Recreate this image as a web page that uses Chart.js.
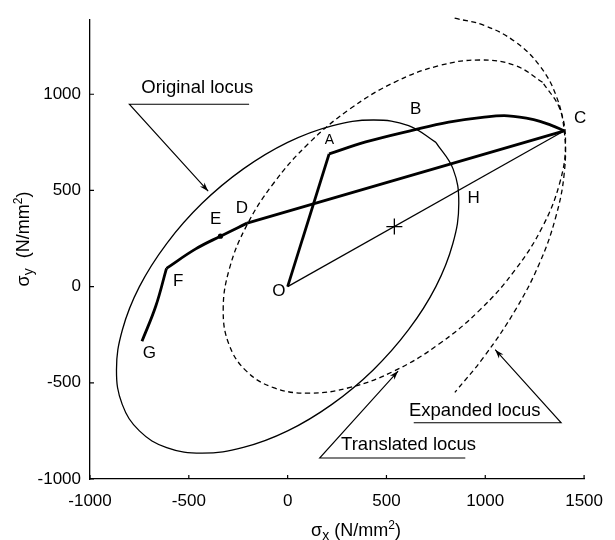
<!DOCTYPE html>
<html>
<head>
<meta charset="utf-8">
<script src="https://cdn.jsdelivr.net/npm/chart.js@4/dist/chart.umd.min.js"></script>
<style>
  html, body { margin: 0; padding: 0; background: #ffffff; }
  #wrap { width: 615px; height: 540px; }
</style>
</head>
<body>
<div id="wrap"><canvas id="c" width="615" height="540"></canvas></div>
<script>
// ---------- data ----------
const xTicks = [-1000, -500, 0, 500, 1000, 1500];
const yTicks = [-1000, -500, 0, 500, 1000];

const originalLocus = [[750,750],[612,837],[433,866],[224,836],[0,750],[-224,612],[-433,433],[-612,224],[-750,0],[-836,-224],[-866,-433],[-837,-612],[-750,-750],[-612,-837],[-433,-866],[-224,-836],[0,-750],[224,-612],[433,-433],[612,-224],[750,0],[836,224],[866,433],[837,612],[750,750]];
const translatedLocus = [[1290,1062],[1152,1149],[973,1178],[764,1148],[540,1062],[316,924],[107,745],[-72,536],[-210,312],[-296,88],[-326,-121],[-297,-300],[-210,-438],[-72,-525],[107,-554],[316,-524],[540,-438],[764,-300],[973,-121],[1152,88],[1290,312],[1376,536],[1406,745],[1377,924],[1290,1062]];
const expandedLocus = [[845,1395],[994,1358],[1151,1273],[1273,1151],[1358,994],[1400,806],[1400,594],[1357,363],[1275,123],[1152,-122],[994,-364],[846,-550]];

const pathOA = [[0,0],[210,690]];
const pathABC = [[210,690],[395,752],[640,815],[815,855],[985,880],[1115,888],[1245,868],[1335,838],[1400,810]];
const pathCD = [[1400,810],[-205,330]];
const pathDEF = [[-205,330],[-340,262],[-465,196],[-613,95]];
const pathFG = [[-613,95],[-667,-101],[-737,-284]];
const lineOC = [[0,0],[1400,810]];
const centreMark = [[540,312]];
const pointE = [[-340,262]];

const pointLabels = ['O','A','B','C','D','E','F','G','H'];
const pointLabelAt = [[-44,-24],[212,760],[648,923],[1480,875],[-232,407],[-364,351],[-554,30],[-700,-349],[941,459]];

const leaderTexts = ['Original locus','Expanded locus','Translated locus'];
const leaderTextAt = [[-457,1035],[947,-645],[612,-822]];
const leaderLines = [
  [[-195,948],[-801,948],[-402,496]],
  [[638,-708],[1384,-708],[1050,-328]],
  [[899,-891],[162,-891],[559,-439]]
];

// ---------- chart ----------
const FONT = "'Liberation Sans', Arial, Helvetica, sans-serif";
const toXY = a => a.map(p => ({x: p[0], y: p[1]}));

function lineSet(pts, o) {
  return Object.assign({
    data: toXY(pts), showLine: true, pointRadius: 0, borderColor: '#000',
    backgroundColor: '#000', borderWidth: 1.2, tension: 0, fill: false
  }, o || {});
}

const datasets = [
  lineSet(originalLocus, {tension: 0.4, borderWidth: 1.3}),
  lineSet(translatedLocus, {tension: 0.4, borderDash: [5, 3.5], borderWidth: 1.3}),
  lineSet(expandedLocus, {tension: 0.4, borderDash: [5, 3.5], borderWidth: 1.3, clip: false}),
  lineSet(lineOC, {borderWidth: 1.2}),
  lineSet(centreMark, {showLine: false, pointRadius: 8, pointStyle: 'cross', borderWidth: 1.3}),
  lineSet(pathOA, {borderWidth: 2.8}),
  lineSet(pathABC, {borderWidth: 2.8, tension: 0.4}),
  lineSet(pathCD, {borderWidth: 2.8}),
  lineSet(pathDEF, {borderWidth: 2.8, tension: 0.4}),
  lineSet(pathFG, {borderWidth: 2.8, tension: 0.4}),
  lineSet(pointE, {showLine: false, pointRadius: 2.6, pointStyle: 'circle', borderWidth: 0})
];
leaderLines.forEach(l => datasets.push(lineSet(l, {borderWidth: 1.1, clip: false})));

const overlay = {
  id: 'overlay',
  afterDraw(chart) {
    const ctx = chart.ctx;
    const xs = chart.scales.x, ys = chart.scales.y;
    const ca = chart.chartArea;
    ctx.save();
    ctx.fillStyle = '#000';
    ctx.strokeStyle = '#000';
    // inward tick marks
    ctx.lineWidth = 1.2;
    ctx.beginPath();
    xTicks.forEach(v => {
      const px = xs.getPixelForValue(v);
      ctx.moveTo(px, ca.bottom); ctx.lineTo(px, ca.bottom - 4);
    });
    yTicks.forEach(v => {
      const py = ys.getPixelForValue(v);
      ctx.moveTo(ca.left, py); ctx.lineTo(ca.left + 4, py);
    });
    ctx.stroke();
    // arrowheads at leader tips
    leaderLines.forEach(l => {
      const a = l[l.length - 2], b = l[l.length - 1];
      const x1 = xs.getPixelForValue(a[0]), y1 = ys.getPixelForValue(a[1]);
      const x2 = xs.getPixelForValue(b[0]), y2 = ys.getPixelForValue(b[1]);
      const ang = Math.atan2(y2 - y1, x2 - x1);
      const L = 9, W = 3;
      ctx.beginPath();
      ctx.moveTo(x2, y2);
      ctx.lineTo(x2 - L * Math.cos(ang) + W * Math.sin(ang), y2 - L * Math.sin(ang) - W * Math.cos(ang));
      ctx.lineTo(x2 - L * 0.7 * Math.cos(ang), y2 - L * 0.7 * Math.sin(ang));
      ctx.lineTo(x2 - L * Math.cos(ang) - W * Math.sin(ang), y2 - L * Math.sin(ang) + W * Math.cos(ang));
      ctx.closePath();
      ctx.fill();
    });
    // leader texts
    ctx.textAlign = 'center';
    ctx.textBaseline = 'middle';
    ctx.font = '18.5px ' + FONT;
    leaderTexts.forEach((t, i) => {
      ctx.fillText(t, xs.getPixelForValue(leaderTextAt[i][0]), ys.getPixelForValue(leaderTextAt[i][1]));
    });
    // point labels
    pointLabels.forEach((t, i) => {
      ctx.font = (t === 'A' ? '14px ' : '17px ') + FONT;
      ctx.fillText(t, xs.getPixelForValue(pointLabelAt[i][0]), ys.getPixelForValue(pointLabelAt[i][1]));
    });
    // axis titles with sub/superscripts
    function richWidth(parts) {
      let w = 0;
      parts.forEach(p => { ctx.font = p.size + 'px ' + FONT; w += ctx.measureText(p.t).width; });
      return w;
    }
    function drawRich(parts, cx, baseY) {
      const w = richWidth(parts);
      let x = cx - w / 2;
      ctx.textAlign = 'left';
      ctx.textBaseline = 'alphabetic';
      parts.forEach(p => {
        ctx.font = p.size + 'px ' + FONT;
        ctx.fillText(p.t, x, baseY + (p.dy || 0));
        x += ctx.measureText(p.t).width;
      });
    }
    const xTitle = [{t: 'σ', size: 18}, {t: 'x', size: 14, dy: 4}, {t: ' (N/mm', size: 18}, {t: '2', size: 12, dy: -7}, {t: ')', size: 18}];
    const yTitle = [{t: 'σ', size: 18}, {t: 'y', size: 14, dy: 4}, {t: '  (N/mm', size: 18}, {t: '2', size: 12, dy: -7}, {t: ')', size: 18}];
    drawRich(xTitle, 356, 536);
    ctx.save();
    ctx.translate(29, 239);
    ctx.rotate(-Math.PI / 2);
    drawRich(yTitle, 0, 0);
    ctx.restore();
    ctx.restore();
  }
};

new Chart(document.getElementById('c'), {
  type: 'scatter',
  data: { datasets },
  options: {
    responsive: false,
    animation: false,
    devicePixelRatio: 1,
    layout: { padding: { top: 13, right: 29, left: 0, bottom: 0 } },
    plugins: { legend: { display: false }, tooltip: { enabled: false } },
    scales: {
      x: {
        type: 'linear', min: -1000, max: 1500,
        afterBuildTicks: s => { s.ticks = xTicks.map(v => ({value: v})); },
        afterFit: s => { s.height = 61; },
        grid: { display: false, drawTicks: false },
        border: { display: true, color: '#000', width: 1.3 },
        ticks: { color: '#000', padding: 12, maxRotation: 0, font: { size: 17, family: FONT }, callback: v => String(v) }
      },
      y: {
        type: 'linear', min: -1000, max: 1390,
        afterBuildTicks: s => { s.ticks = yTicks.map(v => ({value: v})); },
        afterFit: s => { s.width = 90; },
        grid: { display: false, drawTicks: false },
        border: { display: true, color: '#000', width: 1.3 },
        ticks: { color: '#000', padding: 9, font: { size: 17, family: FONT }, callback: v => String(v) }
      }
    }
  },
  plugins: [overlay]
});
</script>
</body>
</html>
